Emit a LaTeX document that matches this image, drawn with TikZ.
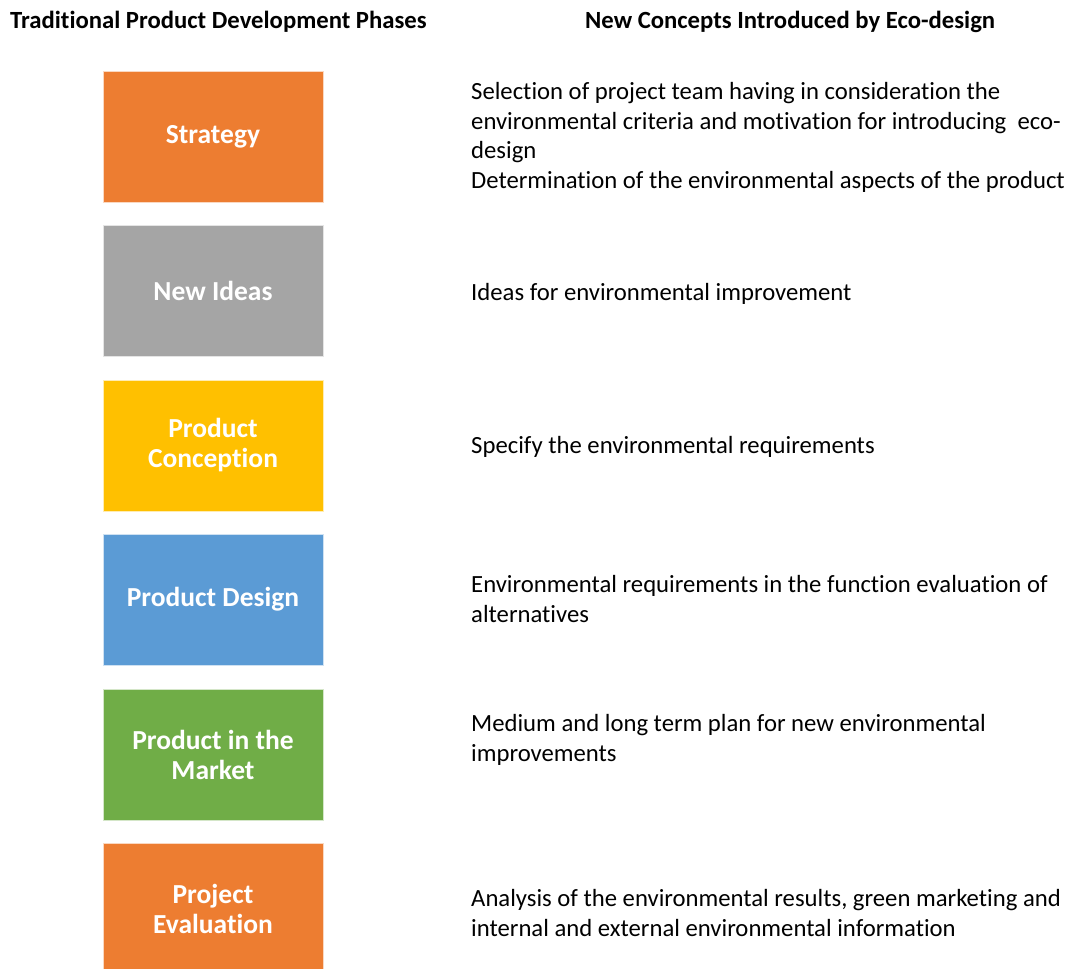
\documentclass[tikz,border=0pt]{standalone}
\usepackage{fontspec}
\setmainfont[Ligatures={NoCommon}]{Carlito}
\usetikzlibrary{positioning}
\definecolor{phorange}{HTML}{ED7D31}
\definecolor{phgray}{HTML}{A5A5A5}
\definecolor{phyellow}{HTML}{FFC000}
\definecolor{phblue}{HTML}{5B9BD5}
\definecolor{phgreen}{HTML}{70AD47}

\begin{document}
\begin{tikzpicture}[x=1pt,y=-1pt,
   phase/.style={draw=white!70!#1,line width=0.8pt,fill=#1,minimum width=220pt,minimum height=131pt,
     text=white,align=center,font=\fontsize{27.5}{30}\selectfont\bfseries,inner sep=0pt},
   concept/.style={anchor=west,align=left,font=\fontsize{24.7}{29.6}\selectfont,inner sep=0pt},
   heading/.style={anchor=base west,font=\fontsize{24.7}{26}\selectfont\bfseries,inner sep=0pt}]
\useasboundingbox (0,0) rectangle (1069,969);
% column titles
\node[heading] (lefthead) at (10,28) {Traditional Product Development Phases};
\node[heading] (righthead) at (585,28) {New Concepts Introduced by Eco-design};
% phases
\node[phase=phorange] (strategy) at (213,136.5) {Strategy};
\node[phase=phgray] (ideas) at (213,291) {New Ideas};
\node[phase=phyellow] (conception) at (213,445.5) {Product\\Conception};
\node[phase=phblue] (design) at (213,599.5) {Product Design};
\node[phase=phgreen] (market) at (213,754.5) {Product in the\\Market};
\node[phase=phorange] (evaluation) at (213,908.5) {Project\\Evaluation};
% eco-design concepts
\node[concept] (c1) at (471,137.5) {Selection of project team having in consideration the\\environmental criteria and motivation for introducing\ \ eco-\\design\\Determination of the environmental aspects of the product};
\node[concept] (c2) at (471,294) {Ideas for environmental improvement};
\node[concept] (c3) at (471,447) {Specify the environmental requirements};
\node[concept] (c4) at (471,599) {Environmental requirements in the function evaluation of\\alternatives};
\node[concept] (c5) at (471,740) {Medium and long term plan for new environmental\\improvements};
\node[concept] (c6) at (471,913) {Analysis of the environmental results, green marketing and\\internal and external environmental information};
\end{tikzpicture}
\end{document}
